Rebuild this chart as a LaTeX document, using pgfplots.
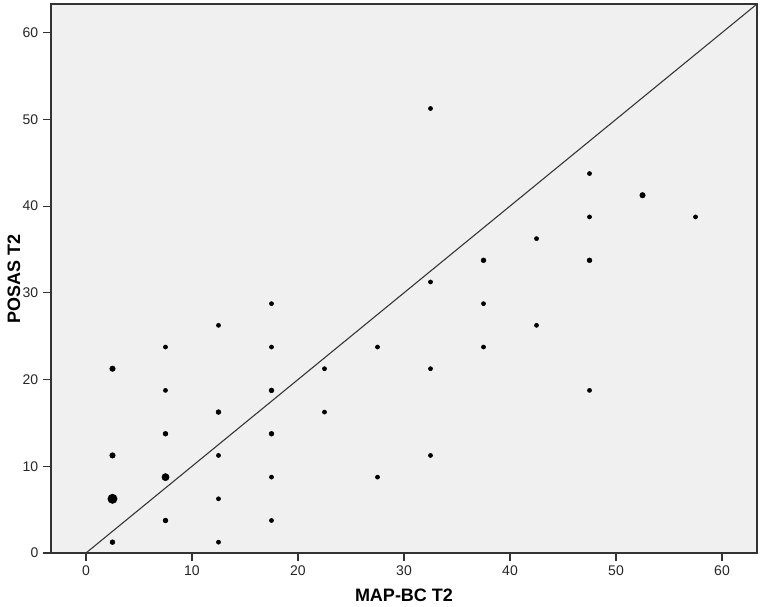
\documentclass[border=0pt]{standalone}
\usepackage{fontspec}
\setmainfont{Liberation Sans}
\usepackage{pgfplots}
\pgfplotsset{compat=1.18}
\definecolor{panel}{HTML}{F0F0F0}
\definecolor{frame}{HTML}{333333}

\begin{document}
\begin{tikzpicture}
\begin{axis}[
  scale only axis,
  width=529.5pt, height=411.75pt,
  xmin=-3.3, xmax=63.3, ymin=0, ymax=63.3,
  xtick={0,10,...,60}, ytick={0,10,...,60},
  xtick pos=bottom, ytick pos=left,
  tick align=outside, major tick length=6pt,
  tick style={frame, line width=0.8pt},
  axis line style={frame, line width=0.8pt},
  axis background/.style={fill=panel},
  ticklabel style={font=\fontsize{10.5}{12}\selectfont, text=black!85},
  /pgf/number format/assume math mode=true,
  xlabel={MAP-BC T2}, ylabel={POSAS T2},
  label style={font=\fontsize{13.5}{16}\selectfont\bfseries},
  xlabel style={at={(axis description cs:0.5,-0.0765)}, anchor=center},
  ylabel style={at={(axis description cs:-0.0524,0.5)}, anchor=center},
  clip=false,
]
% reference line y = x
\addplot[frame, line width=0.8pt, no marks] coordinates {(0,0) (63.3,63.3)};
% single cases
\addplot[only marks, mark=*, mark size=1.55pt, black] coordinates {
  (7.5,18.75) (7.5,23.75)
  (12.5,1.25) (12.5,6.25) (12.5,11.25) (12.5,26.25)
  (17.5,3.75) (17.5,8.75) (17.5,23.75) (17.5,28.75)
  (22.5,16.25) (22.5,21.25)
  (27.5,8.75) (27.5,23.75)
  (32.5,11.25) (32.5,21.25) (32.5,31.25) (32.5,51.25)
  (37.5,23.75) (37.5,28.75)
  (42.5,26.25) (42.5,36.25)
  (47.5,18.75) (47.5,38.75) (47.5,43.75)
  (57.5,38.75)
};
% slightly larger
\addplot[only marks, mark=*, mark size=1.8pt, black] coordinates {
  (2.5,1.25) (7.5,3.75) (7.5,13.75)
  (12.5,16.25) (17.5,13.75) (17.5,18.75)
  (37.5,33.75) (47.5,33.75)
};
\addplot[only marks, mark=*, mark size=2.05pt, black] coordinates {
  (2.5,11.25) (2.5,21.25) (52.5,41.25)
};
\addplot[only marks, mark=*, mark size=2.7pt, black] coordinates {(7.5,8.75)};
\addplot[only marks, mark=*, mark size=3.5pt, black] coordinates {(2.5,6.25)};
\end{axis}
\path ([xshift=-38.25pt,yshift=-39.75pt]current axis.south west)
  rectangle ([xshift=3.75pt,yshift=3pt]current axis.north east);
\end{tikzpicture}
\end{document}
